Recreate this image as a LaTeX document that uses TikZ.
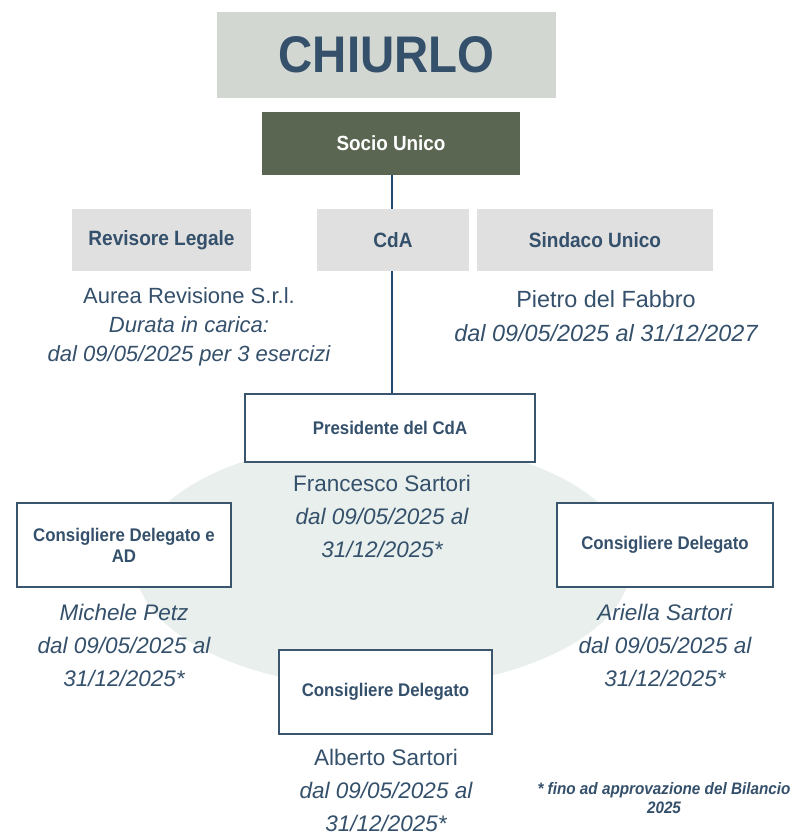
\documentclass[tikz,border=0pt]{standalone}
\usepackage{fontspec}
\setmainfont{Liberation Sans}
\newfontfamily\condfont[FakeStretch=0.92]{Liberation Sans}
\definecolor{txt}{HTML}{34506B}
\definecolor{titlebg}{HTML}{D3D7D1}
\definecolor{sociobg}{HTML}{5A6652}
\definecolor{hdrbg}{HTML}{E0E0E0}
\definecolor{ellbg}{HTML}{E8EFEC}
\definecolor{linec}{HTML}{1F4A70}
\definecolor{boxc}{HTML}{3A566E}
\tikzset{
  hdrbox/.style={fill=hdrbg, inner sep=0pt, text=txt, font=\condfont\fontsize{20.7}{22}\selectfont\bfseries},
  rolebox/.style={draw=boxc, line width=2.5pt, fill=white, inner sep=0pt, text=txt, align=center,
    font=\condfont\fontsize{18.3}{21}\selectfont\bfseries},
  namebox/.style={inner sep=0pt, text=txt, align=center},
}
\begin{document}
\begin{tikzpicture}[x=1pt,y=-1pt]
\useasboundingbox[fill=white] (0,0) rectangle (796,836);
% ellipse background
\fill[ellbg] (383,564) ellipse [x radius=248, y radius=124];
% title
\node[fill=titlebg, minimum width=339pt, minimum height=86pt, inner sep=0pt, text=txt,
  font=\condfont\fontsize{51.5}{56}\selectfont\bfseries] (title) at (386.5,55) {CHIURLO};
\node[fill=sociobg, minimum width=258pt, minimum height=63pt, inner sep=0pt, text=white,
  font=\condfont\fontsize{20.5}{22}\selectfont\bfseries] (socio) at (391,143.5) {Socio Unico};
% president box
\node[rolebox, minimum width=290pt, minimum height=68pt] (pres) at (390,428) {Presidente del CdA};
% vertical connector
\draw[linec, line width=2pt] (socio.south -| 392,0) -- (pres.north -| 392,0);
% header boxes
\node[hdrbox, minimum width=179pt, minimum height=62pt] (rev) at (161.5,240) {Revisore Legale};
\node[hdrbox, minimum width=152pt, minimum height=62pt] (cda) at (393,240) {CdA};
\node[hdrbox, minimum width=236pt, minimum height=62pt] (sind) at (595,240) {Sindaco Unico};
% header texts
\node[namebox, font=\fontsize{22}{29}\selectfont] (aurea) at (189,327)
  {Aurea Revisione S.r.l.\\ \itshape Durata in carica:\\ \itshape dal 09/05/2025 per 3 esercizi};
\node[namebox, font=\fontsize{23.4}{34}\selectfont] (pietro) at (606,316)
  {Pietro del Fabbro\\ \itshape dal 09/05/2025 al 31/12/2027};
% president names
\node[namebox, font=\fontsize{22.5}{33}\selectfont] (franc) at (382,516)
  {Francesco Sartori\\ \itshape dal 09/05/2025 al\\ \itshape 31/12/2025*};
% consiglieri
\node[rolebox, minimum width=214pt, minimum height=84pt] (cdad) at (124,545) {Consigliere Delegato e\\AD};
\node[rolebox, minimum width=216pt, minimum height=84pt] (cdr) at (665,545) {Consigliere Delegato};
\node[rolebox, minimum width=213pt, minimum height=84pt] (cdb) at (385.5,692) {Consigliere Delegato};
\node[namebox, font=\fontsize{22.5}{33}\selectfont\itshape] (michele) at (124,645)
  {Michele Petz\\ dal 09/05/2025 al\\ 31/12/2025*};
\node[namebox, font=\fontsize{22.5}{33}\selectfont\itshape] (ariella) at (665,645)
  {Ariella Sartori\\ dal 09/05/2025 al\\ 31/12/2025*};
\node[namebox, font=\fontsize{22.5}{33}\selectfont] (alberto) at (386,790)
  {Alberto Sartori\\ \itshape dal 09/05/2025 al\\ \itshape 31/12/2025*};
\node[namebox, font=\condfont\fontsize{16.6}{19}\selectfont\bfseries\itshape] (note) at (664,798.5)
  {* fino ad approvazione del Bilancio\\ 2025};
\end{tikzpicture}
\end{document}
